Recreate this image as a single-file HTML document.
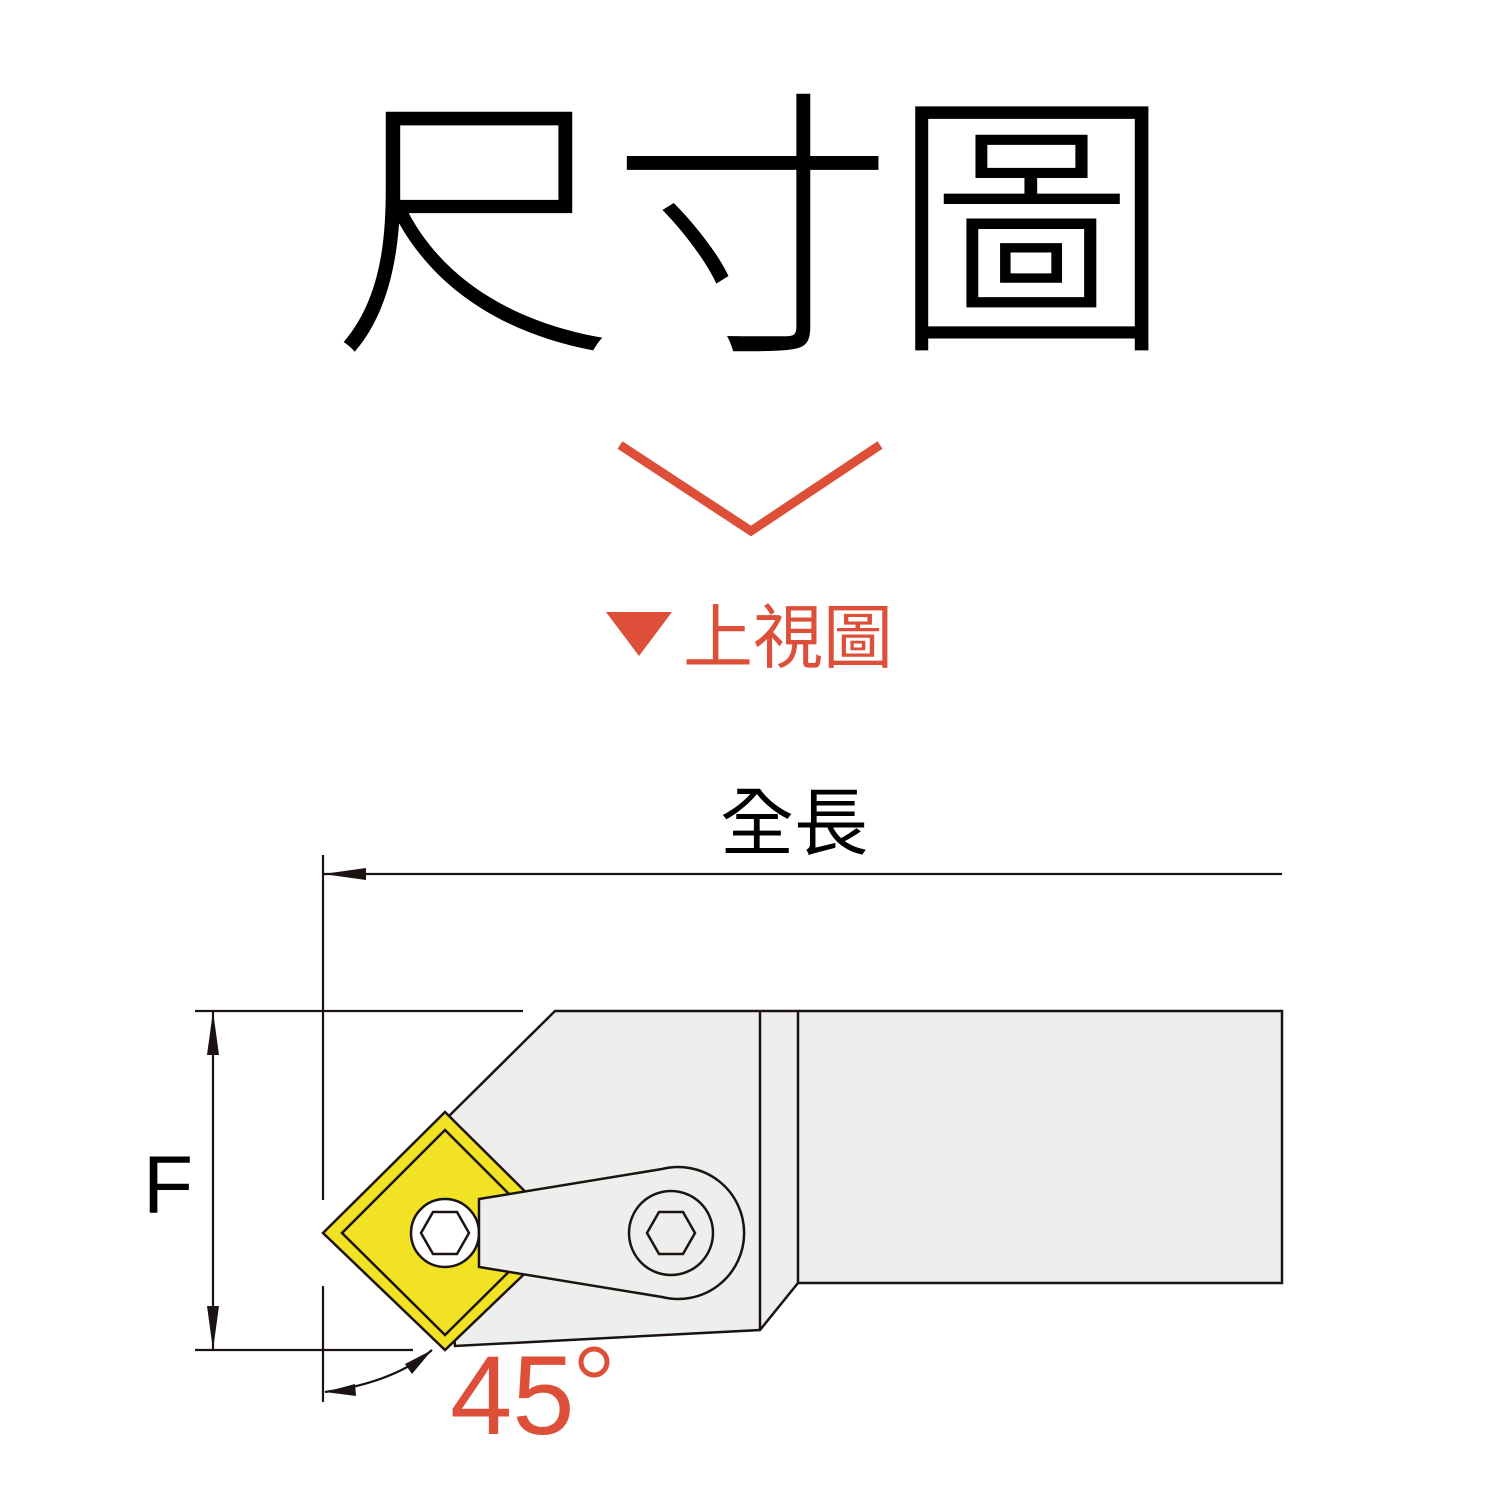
<!DOCTYPE html>
<html><head><meta charset="utf-8"><style>
html,body{margin:0;padding:0;background:#fff;width:1500px;height:1500px;overflow:hidden}
.t{position:absolute;font-family:"Liberation Sans","Noto Sans CJK TC",sans-serif;white-space:nowrap;line-height:1}
</style></head><body>
<div class="t" style="left:332px;top:91px;font-size:283px;letter-spacing:-4px;font-weight:300;">尺寸圖</div>
<div class="t" style="left:683px;top:603px;font-size:70px;color:#dd4f38;">上視圖</div>
<div class="t" style="left:720px;top:787px;font-size:74px;">全長</div>
<div class="t" style="left:143px;top:1145px;font-size:82px;">F</div>
<div class="t" style="left:450px;top:1340px;font-size:112px;color:#dd4f38;">45</div>
<svg width="1500" height="1500" style="position:absolute;left:0;top:0">
<circle cx="594" cy="1362" r="13" fill="none" stroke="#dd4f38" stroke-width="5"/>
<polyline points="620,445 751,531 880,445" fill="none" stroke="#dd4f38" stroke-width="9"/>
<polygon points="606,612 672,612 639,656" fill="#dd4f38"/>
<g stroke="#1a1311" stroke-width="2.2" fill="none">
<line x1="323" y1="855" x2="323" y2="1200"/>
<line x1="323" y1="1286" x2="323" y2="1402"/>
<line x1="323" y1="874" x2="1282" y2="874"/>
<line x1="195" y1="1011" x2="523" y2="1011"/>
<line x1="195" y1="1350" x2="413" y2="1350"/>
<line x1="213" y1="1011" x2="213" y2="1350"/>
<path d="M325,1392 Q395,1382 432,1350"/>
</g>
<g fill="#1a1311">
<polygon points="323,874 366,868 366,880"/>
<polygon points="213,1011 207,1055 219,1055"/>
<polygon points="213,1350 207,1306 219,1306"/>
<polygon points="325,1392 355,1384 356,1396"/>
<polygon points="432,1350 412,1374 405,1364"/>
</g>
<g stroke="#1a1311" stroke-width="2.5" fill="#eeeeec">
<polygon points="555,1011 1282,1011 1282,1283 798,1283 760,1330 455,1346 445,1233 450,1115"/>
<line x1="760" y1="1011" x2="760" y2="1330"/>
<line x1="798" y1="1011" x2="798" y2="1283"/>
<polygon points="445,1112 567,1233 445,1350 323,1233" fill="#f1e224"/>
<polygon points="445,1130 548,1233 445,1335 342,1233" fill="none"/>
<circle cx="445" cy="1233" r="34" fill="#fff"/>
<polygon points="433,1212 457,1212 469,1233 457,1254 433,1254 421,1233" fill="#fff"/>
<path d="M479,1199 L662,1169 A66,66 0 1 1 662,1297 L479,1267 Z"/>
<circle cx="671" cy="1233" r="42"/>
<polygon points="659,1212 683,1212 695,1233 683,1254 659,1254 647,1233"/>
</g>
</svg>
</body></html>
